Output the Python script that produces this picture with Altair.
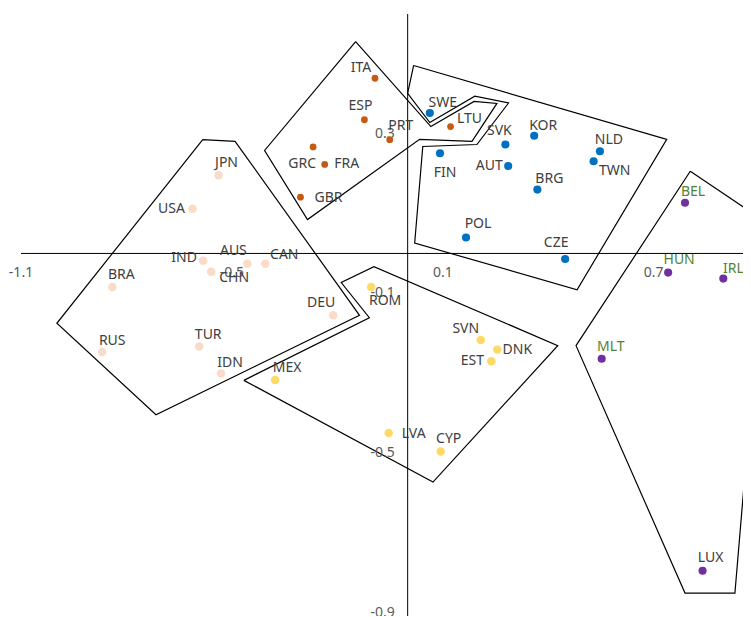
import altair as alt
import pandas as pd

# ---------------- data ----------------
countries = ["ITA", "ESP", "PRT", "GRC", "FRA", "GBR", "LTU",
             "SWE", "FIN", "SVK", "KOR", "AUT", "NLD", "TWN", "BRG", "POL", "CZE",
             "JPN", "USA", "IND", "CHN", "AUS", "CAN", "BRA", "DEU", "RUS", "TUR", "IDN",
             "ROM", "SVN", "DNK", "EST", "MEX", "LVA", "CYP",
             "BEL", "HUN", "IRL", "MLT", "LUX"]
x_vals = [-0.093, -0.123, -0.051, -0.269, -0.236, -0.305, 0.122,
          0.063, 0.092, 0.278, 0.360, 0.286, 0.547, 0.529, 0.369, 0.166, 0.448,
          -0.538, -0.612, -0.582, -0.559, -0.456, -0.405, -0.840, -0.212, -0.869, -0.593, -0.531,
          -0.104, 0.208, 0.255, 0.238, -0.377, -0.054, 0.094,
          0.789, 0.741, 0.898, 0.552, 0.839]
y_vals = [0.439, 0.335, 0.285, 0.267, 0.223, 0.141, 0.318,
          0.352, 0.251, 0.273, 0.295, 0.219, 0.256, 0.231, 0.160, 0.040, -0.014,
          0.196, 0.112, -0.018, -0.046, -0.026, -0.026, -0.084, -0.155, -0.247, -0.233, -0.301,
          -0.084, -0.217, -0.241, -0.270, -0.317, -0.450, -0.496,
          0.127, -0.048, -0.063, -0.264, -0.795]
groups = ["A"] * 7 + ["B"] * 10 + ["C"] * 11 + ["D"] * 7 + ["E"] * 5

# cluster outlines (data coordinates, closed)
poly_A_x = [-0.148, 0.066, 0.189, 0.254, 0.183, 0.034, -0.285, -0.407, -0.148]
poly_A_y = [0.531, 0.318, 0.381, 0.376, 0.281, 0.286, 0.085, 0.258, 0.531]
poly_B_x = [0.017, 0.000, 0.063, 0.191, 0.287, 0.197, 0.043, 0.020, 0.482, 0.737, 0.017]
poly_B_y = [0.471, 0.401, 0.328, 0.394, 0.377, 0.273, 0.268, 0.026, -0.091, 0.286, 0.471]
poly_C_x = [-0.583, -0.491, -0.137, -0.716, -0.998, -0.583]
poly_C_y = [0.285, 0.281, -0.155, -0.404, -0.175, 0.285]
poly_D_x = [-0.466, -0.109, -0.189, -0.096, 0.427, 0.072, -0.466]
poly_D_y = [-0.318, -0.161, -0.073, -0.033, -0.231, -0.573, -0.318]
poly_E_x = [0.804, 1.020, 0.931, 0.789, 0.479, 0.804]
poly_E_y = [0.206, 0.078, -0.851, -0.851, -0.231, 0.206]

x_ticks = [-1.1, -0.5, 0.1, 0.7]
y_ticks = [0.3, -0.1, -0.5, -0.9]

# ---------------- styling / layout ----------------
group_colors = {"A": "#C55A11", "B": "#0070C0", "C": "#F9DBC7", "D": "#FFD966", "E": "#7030A0"}
group_sizes = {"A": 46, "B": 66, "C": 72, "D": 72, "E": 66}
# label offsets from the point, in pixels (right, down)
label_offsets = {
    "ITA": (-14, -10), "ESP": (-4, -14), "PRT": (11, -14), "GRC": (-11, 17), "FRA": (22, 0),
    "GBR": (28, 1), "LTU": (19, -8),
    "SWE": (13, -10), "FIN": (5, 20), "SVK": (-6, -13), "KOR": (9, -10), "AUT": (-19, 0),
    "NLD": (9, -11), "TWN": (21, 10), "BRG": (12, -11), "POL": (12, -13), "CZE": (-9, -16),
    "JPN": (8, -12), "USA": (-21, 0), "IND": (-19, -3), "CHN": (23, 6), "AUS": (-14, -13),
    "CAN": (19, -9), "BRA": (9, -12), "DEU": (-12, -12), "RUS": (10, -11), "TUR": (9, -11),
    "IDN": (9, -11),
    "ROM": (14, 14), "SVN": (-15, -11), "DNK": (20, 0), "EST": (-19, 0), "MEX": (12, -12),
    "LVA": (25, 1), "CYP": (8, -12),
    "BEL": (8, -11), "HUN": (11, -13), "IRL": (10, -10), "MLT": (9, -12), "LUX": (8, -13),
}
green_labels = {"BEL", "HUN", "IRL", "MLT"}
FONT = "Noto Sans"

W, H = 722, 602
X_DOM = [-1.1, 0.954]
Y_DOM = [-0.9085, 0.6]
PX_PER_X = W / (X_DOM[1] - X_DOM[0])
PX_PER_Y = H / (Y_DOM[1] - Y_DOM[0])

pts = pd.DataFrame({"name": countries, "x": x_vals, "y": y_vals, "g": groups})
pts["lx"] = [x + label_offsets[c][0] / PX_PER_X for c, x in zip(countries, x_vals)]
pts["ly"] = [y - label_offsets[c][1] / PX_PER_Y for c, y in zip(countries, y_vals)]
pts["lc"] = ["#548235" if c in green_labels else "#404040" for c in countries]
pts["sz"] = [group_sizes[g] for g in groups]

poly_rows = []
for pid, (px, py) in {"A": (poly_A_x, poly_A_y), "B": (poly_B_x, poly_B_y),
                      "C": (poly_C_x, poly_C_y), "D": (poly_D_x, poly_D_y),
                      "E": (poly_E_x, poly_E_y)}.items():
    for i, (a, b) in enumerate(zip(px, py)):
        poly_rows.append({"pid": pid, "i": i, "x": a, "y": b})
polys = pd.DataFrame(poly_rows)

xs = alt.Scale(domain=X_DOM, nice=False, zero=False)
ys = alt.Scale(domain=Y_DOM, nice=False, zero=False)

outline = alt.Chart(polys).mark_line(color="black", strokeWidth=1.2, clip=True).encode(
    x=alt.X("x:Q", scale=xs, axis=None),
    y=alt.Y("y:Q", scale=ys, axis=None),
    detail="pid:N",
    order="i:Q",
)

axis_df = pd.DataFrame({"x0": [X_DOM[0]], "x1": [X_DOM[1]], "y0": [Y_DOM[0]], "y1": [Y_DOM[1]], "z": [0.0]})
h_axis = alt.Chart(axis_df).mark_rule(color="black", strokeWidth=1).encode(
    x=alt.X("x0:Q", scale=xs, axis=None), x2="x1:Q", y=alt.Y("z:Q", scale=ys, axis=None))
v_axis = alt.Chart(axis_df).mark_rule(color="black", strokeWidth=1).encode(
    y=alt.Y("y0:Q", scale=ys, axis=None), y2="y1:Q", x=alt.X("z:Q", scale=xs, axis=None))

xt = pd.DataFrame({"v": x_ticks, "z": 0.0, "t": [str(v) for v in x_ticks]})
yt = pd.DataFrame({"v": y_ticks, "z": 0.0, "t": [str(v) for v in y_ticks]})
x_tick_labels = alt.Chart(xt).mark_text(font=FONT, fontSize=14, color="#595959", dy=20,
                                        baseline="middle", align="center").encode(
    x=alt.X("v:Q", scale=xs, axis=None), y=alt.Y("z:Q", scale=ys, axis=None), text="t:N")
y_tick_labels = alt.Chart(yt).mark_text(font=FONT, fontSize=14, color="#595959", dx=-13,
                                        baseline="middle", align="right").encode(
    y=alt.Y("v:Q", scale=ys, axis=None), x=alt.X("z:Q", scale=xs, axis=None), text="t:N")

points = alt.Chart(pts).mark_circle(opacity=1).encode(
    x=alt.X("x:Q", scale=xs, axis=None),
    y=alt.Y("y:Q", scale=ys, axis=None),
    color=alt.Color("g:N", scale=alt.Scale(domain=list(group_colors.keys()),
                                            range=list(group_colors.values())), legend=None),
    size=alt.Size("sz:Q", scale=None, legend=None),
)

labels = alt.Chart(pts).mark_text(font=FONT, fontSize=14, baseline="middle", align="center").encode(
    x=alt.X("lx:Q", scale=xs, axis=None),
    y=alt.Y("ly:Q", scale=ys, axis=None),
    text="name:N",
    color=alt.Color("lc:N", scale=None, legend=None),
)

chart = alt.layer(outline, h_axis, v_axis, x_tick_labels, y_tick_labels, points, labels).properties(
    width=W, height=H,
    background="white",
    autosize=alt.AutoSizeParams(type="none"),
    padding={"left": 13, "top": 6, "right": 0, "bottom": 0},
).configure_view(stroke=None)

chart.save("out.html", embed_options={"renderer": "svg", "actions": False})
